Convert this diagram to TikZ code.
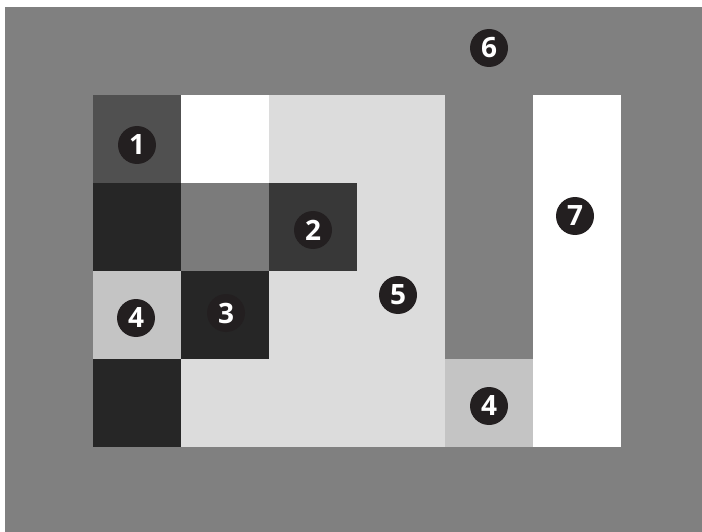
\documentclass[tikz,border=0pt]{standalone}
\usepackage{fontspec}
\setsansfont{Open Sans}
\usepackage{tikz}
\definecolor{field}{HTML}{808080}
\definecolor{pale}{HTML}{DCDCDC}
\definecolor{mid}{HTML}{C4C4C4}
\definecolor{deep}{HTML}{262626}
\definecolor{slate}{HTML}{505050}
\definecolor{coal}{HTML}{383838}
\definecolor{dim}{HTML}{7B7B7B}
\definecolor{dot}{HTML}{231F20}
\tikzset{
  badge/.style={circle,fill=dot,text=white,minimum size=38pt,inner sep=0pt,font=\sffamily\bfseries\fontsize{28}{28}\selectfont},
}
\begin{document}
\begin{tikzpicture}[x=1pt,y=-1pt]
  \useasboundingbox (0,0) rectangle (702,532);
  % background field
  \fill[field] (5,7) rectangle (702,532);
  % region 5
  \fill[pale] (269,95) rectangle (445,447);
  \fill[pale] (181,359) rectangle (269,447);
  % left column
  \fill[slate] (93,95) rectangle (181,183);
  \fill[deep] (93,183) rectangle (181,271);
  \fill[mid] (93,271) rectangle (181,359);
  \fill[deep] (93,359) rectangle (181,447);
  % second column
  \fill[white] (181,95) rectangle (269,183);
  \fill[dim] (181,183) rectangle (269,271);
  \fill[deep] (181,271) rectangle (269,359);
  % block 2
  \fill[coal] (269,183) rectangle (357,271);
  % lower block 4 and white strip 7
  \fill[mid] (445,359) rectangle (533,447);
  \fill[white] (533,95) rectangle (621,447);
  % labels
  \node[badge] (one) at (137,145) {1};
  \node[badge] (two) at (313,230) {2};
  \node[badge] (three) at (226,313) {3};
  \node[badge] (fourA) at (136,318) {4};
  \node[badge] (fourB) at (489,406) {4};
  \node[badge] (five) at (398,295) {5};
  \node[badge] (six) at (489,48) {6};
  \node[badge] (seven) at (575,216) {7};
\end{tikzpicture}
\end{document}
